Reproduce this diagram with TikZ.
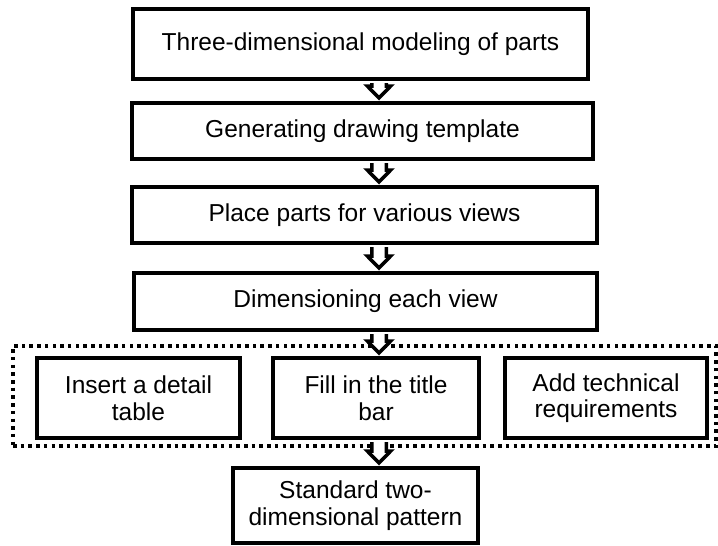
\documentclass[tikz,border=0pt]{standalone}
\usepackage{fontspec}
\setmainfont{Liberation Sans}
\usetikzlibrary{calc}
\newcommand\blockarrow[2]{%
  \draw[barr] let \p1=(#1), \p2=(#2) in
    (\x1-7.25pt,\y1-2pt) -- (\x1-7.25pt,\y2+15pt) -- (\x1-11.75pt,\y2+15pt)
    -- (\x1,\y2+3pt) -- (\x1+11.75pt,\y2+15pt) -- (\x1+7.25pt,\y2+15pt)
    -- (\x1+7.25pt,\y1-2pt);}
\begin{document}
\begin{tikzpicture}[x=1pt,y=-1pt,
  box/.style={draw, line width=4pt, align=center, inner sep=0pt,
    font=\fontsize{24.5}{26.5}\selectfont},
  barr/.style={draw, fill=white, line width=3.5pt, line join=miter},
  dotbox/.style={draw, line width=3.5pt, dash pattern=on 3.5pt off 4.2pt, inner sep=0pt}]
\useasboundingbox (0,0) rectangle (718,546);
\node[dotbox, minimum width=703pt, minimum height=100pt] (grp) at (364.5,396) {};
\node[box, minimum width=455pt, minimum height=70pt] (b1) at (360.5,44) {Three-dimensional modeling of parts};
\node[box, minimum width=461pt, minimum height=56pt] (b2) at (362.5,131) {Generating drawing template};
\node[box, minimum width=465pt, minimum height=56pt] (b3) at (364.5,215) {Place parts for various views};
\node[box, minimum width=463pt, minimum height=57pt] (b4) at (365.5,301.5) {Dimensioning each view};
\node[box, minimum width=203pt, minimum height=80pt] (ba) at (138.5,398) {Insert a detail\\table};
\node[box, minimum width=206pt, minimum height=80pt] (bb) at (376,398) {Fill in the title\\bar};
\node[box, minimum width=202pt, minimum height=80pt] (bc) at (606,398) {Add technical\\requirements};
\node[box, minimum width=245pt, minimum height=75pt] (b6) at (355.5,505.5) {Standard two-\\dimensional pattern};
\coordinate (ax) at (379,0);
\blockarrow{b1.south -| ax}{b2.north -| ax}
\blockarrow{b2.south -| ax}{b3.north -| ax}
\blockarrow{b3.south -| ax}{b4.north -| ax}
\blockarrow{b4.south -| ax}{bb.north -| ax}
\blockarrow{bb.south -| ax}{b6.north -| ax}
\end{tikzpicture}
\end{document}
